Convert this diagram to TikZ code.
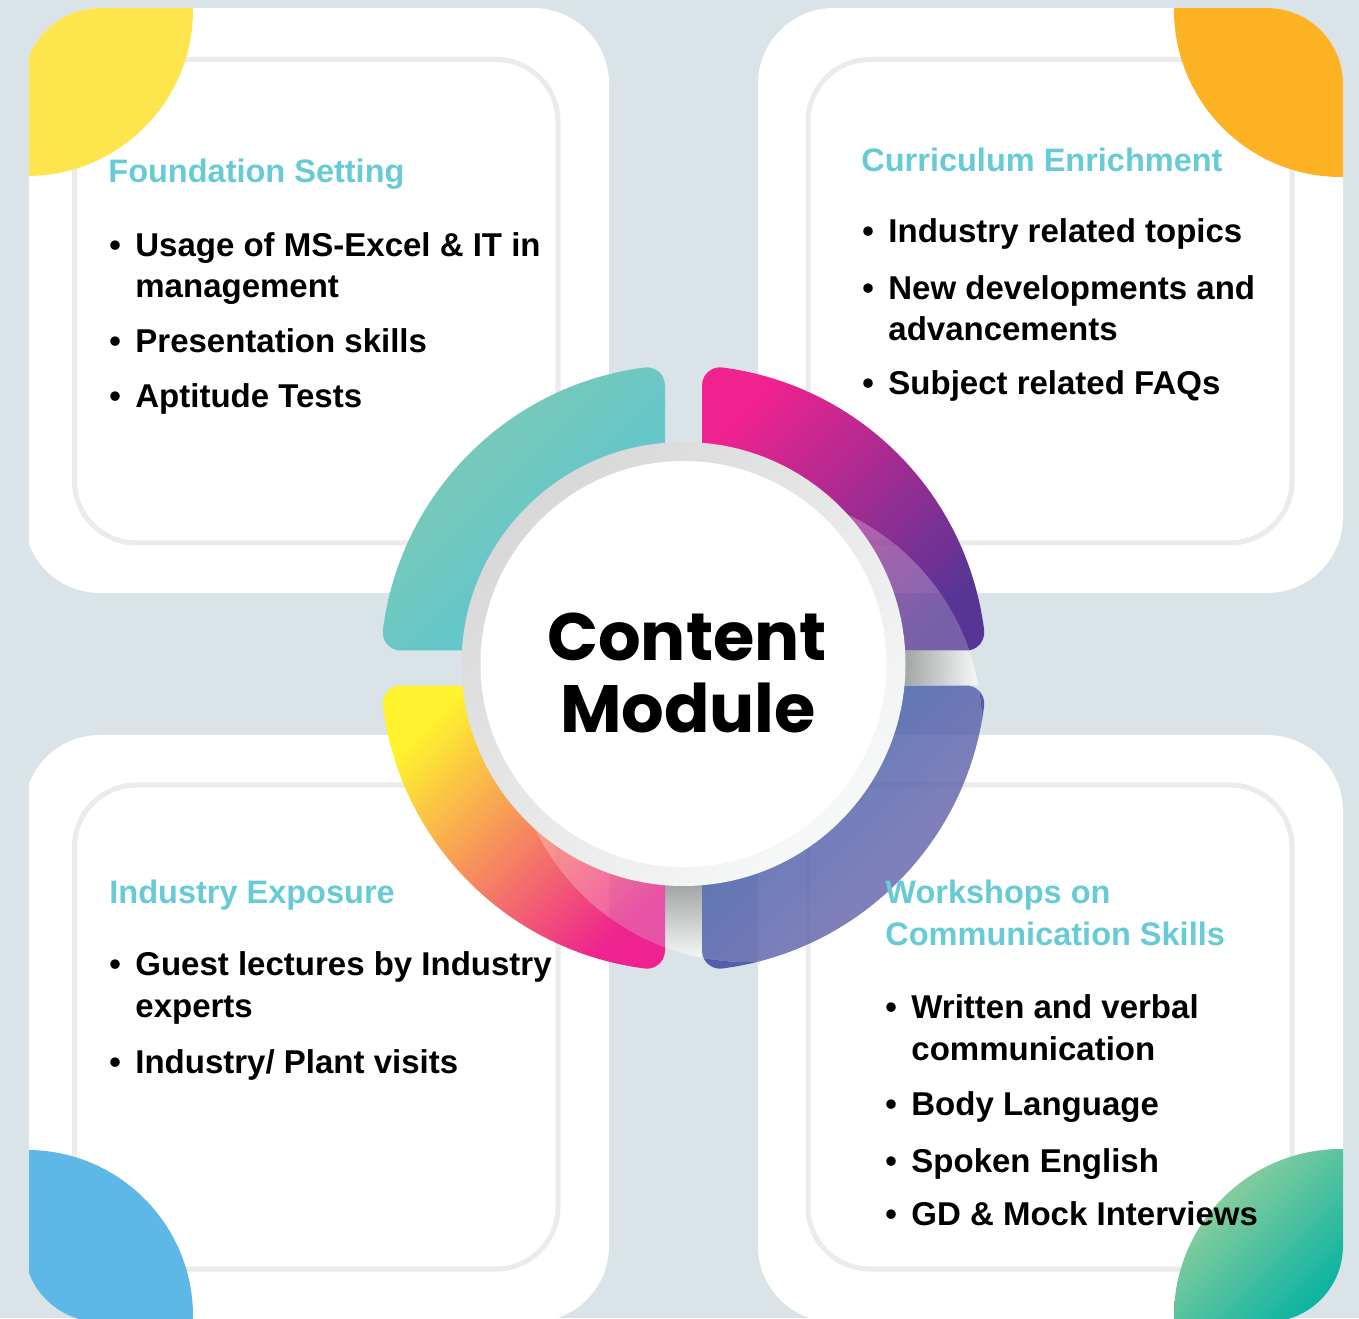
\documentclass[tikz,border=0pt]{standalone}
\usepackage{fontspec}
\setmainfont{Liberation Sans}
\newfontfamily\titlefont{Poppins}
\definecolor{bgc}{HTML}{DAE3E8}
\definecolor{headc}{HTML}{67CBD6}
\definecolor{linec}{HTML}{EBEBEB}
\definecolor{yelc}{HTML}{FFE54D}
\definecolor{orac}{HTML}{FDB223}
\definecolor{bluc}{HTML}{5DB8E8}
\definecolor{grnA}{HTML}{A2D29B}
\definecolor{grnB}{HTML}{10B4A2}
\definecolor{tlA}{HTML}{80CAB0}
\definecolor{tlB}{HTML}{55C5D8}
\definecolor{trA}{HTML}{F0228F}
\definecolor{trB}{HTML}{583595}
\definecolor{blA}{HTML}{FFF22E}
\definecolor{blM}{HTML}{F8A65A}
\definecolor{blB}{HTML}{EE238F}
\definecolor{brA}{HTML}{325AAA}
\definecolor{brB}{HTML}{7062A8}
\definecolor{ringA}{HTML}{D8D8D8}
\definecolor{ringB}{HTML}{F7F8F8}
\definecolor{gapA}{HTML}{A4A6A6}
\definecolor{gapB}{HTML}{F2F4F4}
\pgfdeclareradialshading{gapshade}{\pgfpoint{0bp}{0bp}}{color(0bp)=(gapA); color(18.3bp)=(gapA); color(24bp)=(gapB); color(50bp)=(gapB)}
\def\segTR{(702,667.5) -- (702,932.65) arc[start angle=180, end angle=82.64, radius=18] arc[start angle=82.64, end angle=7.155, radius=303] arc[start angle=7.155, end angle=-90, radius=18] -- cycle}
\def\segTL{(665,667.5) -- (665,932.65) arc[start angle=0, end angle=97.36, radius=18] arc[start angle=97.36, end angle=172.845, radius=303] arc[start angle=172.845, end angle=270, radius=18] -- cycle}
\def\segBL{(665,632.5) -- (665,367.35) arc[start angle=360, end angle=262.64, radius=18] arc[start angle=262.64, end angle=187.155, radius=303] arc[start angle=187.155, end angle=90, radius=18] -- cycle}
\def\segBR{(702,632.5) -- (702,367.35) arc[start angle=-180, end angle=-82.64, radius=18] arc[start angle=-82.64, end angle=-7.155, radius=303] arc[start angle=-7.155, end angle=90, radius=18] -- cycle}
\tikzset{
  card/.style={fill=white, rounded corners=38pt},
  outline/.style={draw=linec, line width=2.5pt, rounded corners=31pt},
  tlshade/.style={left color=tlA, right color=tlB, shading angle=45},
  trshade/.style={left color=trA, right color=trB, shading angle=45},
  blshade/.style={left color=blA, middle color=blM, right color=blB, shading angle=45},
  brshade/.style={left color=brA, right color=brB, shading angle=45},
  head/.style={anchor=base west, inner sep=0pt, text=headc, font=\fontsize{16.25pt}{18pt}\selectfont\bfseries},
  item/.style={anchor=base west, inner sep=0pt, text=black, font=\fontsize{16.5pt}{18pt}\selectfont\bfseries},
  bigtitle/.style={anchor=base, inner sep=0pt, text=black, font=\fontsize{33.5pt}{36pt}\titlefont\bfseries},
}
\begin{document}
\begin{tikzpicture}[x=0.5pt,y=0.5pt]
\useasboundingbox (0,0) rectangle (1359,1318);
\fill[bgc] (0,0) rectangle (1359,1318);
\begin{scope}
  \clip (29,0) rectangle (1359,1318);
  % cards
  \path[card] (24,725) rectangle (609,1310);
  \path[card] (758,725) rectangle (1343,1310);
  \path[card] (24,-4) rectangle (609,583);
  \path[card] (758,-4) rectangle (1343,583);
  % inner outlines
  \draw[outline] (74.5,775) rectangle (558,1258.5);
  \draw[outline] (808,775) rectangle (1292,1258.5);
  \draw[outline] (74.5,49) rectangle (558,533);
  \draw[outline] (808,49) rectangle (1292,533);
  % corner blobs
  \begin{scope}
    \clip[rounded corners=38pt] (24,725) rectangle (609,1310);
    \fill[yelc] (27,1308) circle[radius=166];
  \end{scope}
  \begin{scope}
    \clip[rounded corners=38pt] (758,725) rectangle (1343,1310);
    \fill[orac] (1341,1308) circle[radius=167];
  \end{scope}
  \begin{scope}
    \clip[rounded corners=38pt] (24,-4) rectangle (609,583);
    \fill[bluc] (27,2) circle[radius=166];
  \end{scope}
  \begin{scope}
    \clip[rounded corners=38pt] (758,-4) rectangle (1343,583);
    \clip (1341,2) circle[radius=167];
    \shade[left color=grnA, right color=grnB, shading angle=45] (1174,0) rectangle (1343,169);
  \end{scope}
\end{scope}
% ring segments, opaque outside the shadow circle
\begin{scope}
  \clip (0,0) -- (0,1318) -- (1359,1318) -- (1359,0) -- cycle (982,591) arc[start angle=0, end angle=360, radius=235];
  \shade[tlshade] \segTL;
  \shade[trshade] \segTR;
  \shade[blshade] \segBL;
  \shade[brshade] \segBR;
\end{scope}
% inside the shadow circle: gaps shaded, segments translucent
\begin{scope}
  \clip (747,591) circle[radius=235];
  \begin{scope}
    \clip (665,0) rectangle (702,1318) (0,632.5) rectangle (1359,667.5);
    \shade[shading=gapshade] (683.5,654) circle[radius=303];
  \end{scope}
  \shade[trshade, fill opacity=0.75] \segTR;
  \shade[blshade, fill opacity=0.75] \segBL;
  \shade[brshade, fill opacity=0.8] \segBR;
\end{scope}
% centre disc
\shade[left color=ringA, right color=ringB, shading angle=45] (683.5,654) circle[radius=222];
\fill[white] (683.5,654) circle[radius=203];
\node[bigtitle] (t1) at (687,657) {Content};
\node[bigtitle] (t2) at (688,585) {Module};
% top left
\node[head] (h1) at (108,1135) {Foundation Setting};
\node[item] (b11) at (109,1061) {•};
\node[item] (a11) at (135,1061) {Usage of MS-Excel \& IT in};
\node[item] (a12) at (135,1020) {management};
\node[item] (b12) at (109,965) {•};
\node[item] (a13) at (135,965) {Presentation skills};
\node[item] (b13) at (109,910) {•};
\node[item] (a14) at (135,910) {Aptitude Tests};
% top right
\node[head] (h2) at (861,1146) {Curriculum Enrichment};
\node[item] (b21) at (862,1075) {•};
\node[item] (a21) at (888,1075) {Industry related topics};
\node[item] (b22) at (862,1018) {•};
\node[item] (a22) at (888,1018) {New developments and};
\node[item] (a23) at (888,977) {advancements};
\node[item] (b23) at (862,923) {•};
\node[item] (a24) at (888,923) {Subject related FAQs};
% bottom left
\node[head] (h3) at (109,415) {Industry Exposure};
\node[item] (b31) at (109,343) {•};
\node[item] (a31) at (135,343) {Guest lectures by Industry};
\node[item] (a32) at (135,301) {experts};
\node[item] (b32) at (109,245) {•};
\node[item] (a33) at (135,245) {Industry/ Plant visits};
% bottom right
\node[head] (h4) at (885,415) {Workshops on};
\node[head] (h5) at (885,373) {Communication Skills};
\node[item] (b41) at (885,300) {•};
\node[item] (a41) at (911,300) {Written and verbal};
\node[item] (a42) at (911,258) {communication};
\node[item] (b42) at (885,203) {•};
\node[item] (a43) at (911,203) {Body Language};
\node[item] (b43) at (885,146) {•};
\node[item] (a44) at (911,146) {Spoken English};
\node[item] (b44) at (885,93) {•};
\node[item] (a45) at (911,93) {GD \& Mock Interviews};
\end{tikzpicture}
\end{document}
